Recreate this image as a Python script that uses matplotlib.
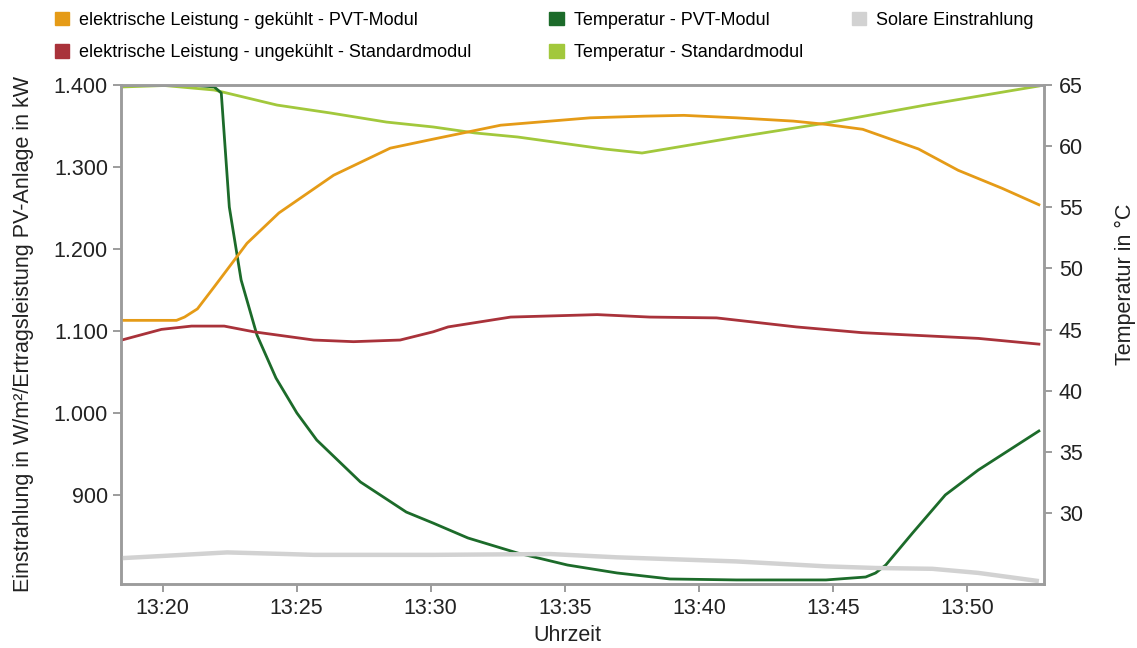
import matplotlib
matplotlib.use("Agg")
from matplotlib import pyplot as plt
from matplotlib.patches import Patch
from matplotlib.ticker import FuncFormatter, MultipleLocator

plt.rcParams['font.family'] = ['Liberation Sans', 'DejaVu Sans']

# Zeit in Minuten nach 13:00 Uhr
# elektrische Leistung - gekühlt - PVT-Modul (linke Achse)
t_pvt = [18.48, 20.52, 20.82, 21.30, 21.93, 23.15, 24.34, 26.38, 28.49, 30.09, 32.61,
         35.95, 37.95, 39.44, 41.40, 43.52, 44.74, 46.11, 48.19, 49.67, 51.31, 52.68]
p_pvt = [1113, 1113, 1117, 1127, 1154, 1207, 1244, 1290, 1323, 1334, 1351,
         1360, 1362, 1363, 1360, 1356, 1352, 1346, 1322, 1296, 1274, 1254]

# elektrische Leistung - ungekühlt - Standardmodul (linke Achse)
t_std = [18.48, 19.96, 21.08, 22.30, 23.41, 25.64, 27.12, 28.86, 30.09, 30.65, 32.98,
         36.21, 38.17, 40.66, 43.63, 46.08, 50.42, 52.68]
p_std = [1089, 1102, 1106, 1106, 1099, 1089, 1087, 1089, 1099, 1105, 1117,
         1120, 1117, 1116, 1105, 1098, 1091, 1084]

# Temperatur - PVT-Modul (rechte Achse)
t_temp_pvt = [18.48, 21.08, 21.93, 22.19, 22.49, 22.93, 23.52, 24.23, 25.01, 25.75, 27.38,
              29.09, 30.09, 31.39, 33.24, 35.10, 36.95, 38.92, 41.40, 44.74, 46.22, 46.59,
              46.97, 47.97, 49.19, 50.42, 52.68]
temp_pvt = [65.0, 65.0, 64.84, 64.35, 55.02, 49.06, 44.56, 41.04, 38.18, 35.97, 32.54,
            30.08, 29.18, 27.96, 26.73, 25.75, 25.10, 24.61, 24.53, 24.53, 24.77, 25.10,
            25.75, 28.37, 31.48, 33.52, 36.71]

# Temperatur - Standardmodul (rechte Achse)
t_temp_std = [18.48, 20.07, 21.93, 24.27, 26.27, 28.35, 30.09, 31.65, 33.24, 36.47, 37.88,
              41.40, 44.74, 48.45, 52.68]
temp_std = [64.84, 64.96, 64.59, 63.36, 62.71, 61.97, 61.57, 61.08, 60.75, 59.77, 59.44,
            60.73, 61.89, 63.36, 64.92]

# Solare Einstrahlung (linke Achse)
t_sol = [18.48, 20.19, 22.41, 24.64, 25.64, 30.09, 34.47, 36.95, 41.40, 44.74, 46.59,
         48.71, 50.42, 52.68]
sol = [823, 826, 830, 828, 827, 827, 828, 824, 819, 813, 811, 810, 805, 795]

c_orange = '#E59B17'
c_red = '#A9323A'
c_dgreen = '#1C6B2A'
c_lgreen = '#A2C83C'
c_gray = '#D2D2D2'
c_axis = '#9C9C9C'

fig = plt.figure(figsize=(11.37, 6.48), dpi=100)
ax = fig.add_axes([0.1064, 0.0988, 0.8118, 0.77])
ax2 = ax.twinx()
ax.set_zorder(ax2.get_zorder() + 1)
ax.patch.set_visible(False)

ax.plot(t_sol, sol, color=c_gray, lw=3.2, solid_capstyle='butt')
ax.plot(t_std, p_std, color=c_red, lw=2.0)
ax.plot(t_pvt, p_pvt, color=c_orange, lw=2.0)
ax2.plot(t_temp_std, temp_std, color=c_lgreen, lw=2.0)
ax2.plot(t_temp_pvt, temp_pvt, color=c_dgreen, lw=2.0)

ax.set_xlim(18.45, 52.87)
ax.set_ylim(791.5, 1400)
ax2.set_ylim(24.2, 65)

ax.xaxis.set_major_locator(MultipleLocator(5))
ax.xaxis.set_major_formatter(FuncFormatter(lambda v, p: "13:%02d" % int(round(v))))
ax.set_yticks([900, 1000, 1100, 1200, 1300, 1400])
ax.yaxis.set_major_formatter(FuncFormatter(lambda v, p: "{:,.0f}".format(v).replace(",", ".")))
ax2.set_yticks([30, 35, 40, 45, 50, 55, 60, 65])

for a in (ax, ax2):
    for s in a.spines.values():
        s.set_color(c_axis)
        s.set_linewidth(1.8)
    a.tick_params(colors=c_axis, labelcolor='#222222', labelsize=15.5,
                  length=5.8, width=1.4)
ax.tick_params(axis='y', pad=3.6)
ax.tick_params(axis='x', pad=4)
ax2.tick_params(axis='y', pad=5)

ax.set_xlabel('Uhrzeit', fontsize=15.5, color='#222222')
ax.xaxis.set_label_coords(0.4837, -0.083)
ax.set_ylabel('Einstrahlung in W/m²/Ertragsleistung PV-Anlage in kW', fontsize=15.5,
              color='#222222')
ax.yaxis.set_label_coords(-0.094, 0.5)
ax2.set_ylabel('Temperatur in °C', fontsize=15.5, color='#222222')
ax2.yaxis.set_label_coords(1.077, 0.6)

leg_kw = dict(loc='upper left', frameon=False, fontsize=13, handlelength=0.8,
              handleheight=0.8, handletextpad=0.55, labelspacing=0.85, borderpad=0,
              borderaxespad=0)
fig.legend(handles=[Patch(color=c_orange, label='elektrische Leistung - gekühlt - PVT-Modul'),
                    Patch(color=c_red, label='elektrische Leistung - ungekühlt - Standardmodul')],
           bbox_to_anchor=(0.048, 0.982), **leg_kw)
fig.legend(handles=[Patch(color=c_dgreen, label='Temperatur - PVT-Modul'),
                    Patch(color=c_lgreen, label='Temperatur - Standardmodul')],
           bbox_to_anchor=(0.483, 0.982), **leg_kw)
fig.legend(handles=[Patch(color=c_gray, label='Solare Einstrahlung')],
           bbox_to_anchor=(0.749, 0.982), **leg_kw)

fig.savefig('out.png', dpi=100)
